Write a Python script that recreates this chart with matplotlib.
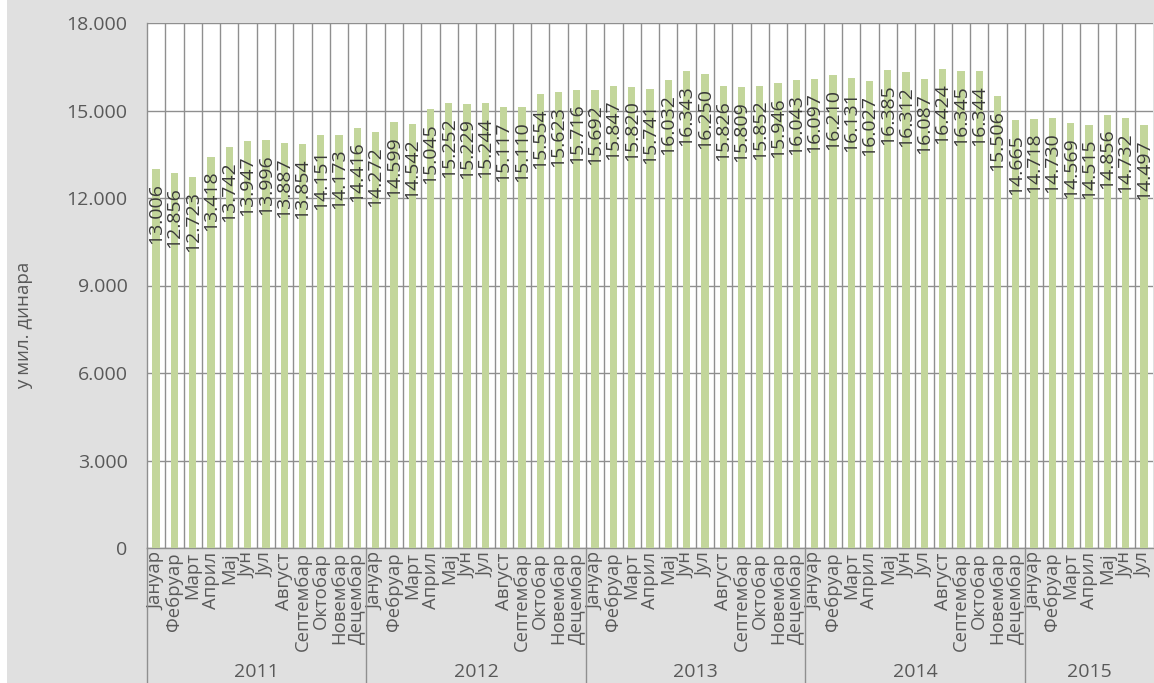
import matplotlib
matplotlib.use("Agg")
import matplotlib.pyplot as plt
import matplotlib.transforms as mtransforms
from matplotlib.patches import Rectangle
from matplotlib.lines import Line2D
import numpy as np

plt.rcParams['font.family'] = ['Open Sans', 'DejaVu Sans']

years = ['2011', '2012', '2013', '2014', '2015']
months_full = ['Јануар', 'Фебруар', 'Март', 'Април', 'Мај', 'Јун', 'Јул',
               'Август', 'Септембар', 'Октобар', 'Новембар', 'Децембар']
months_per_year = [12, 12, 12, 12, 7]

values_2011 = [13006, 12856, 12723, 13418, 13742, 13947, 13996, 13887, 13854, 14151, 14173, 14416]
values_2012 = [14272, 14599, 14542, 15045, 15252, 15229, 15244, 15117, 15110, 15554, 15623, 15716]
values_2013 = [15692, 15847, 15820, 15741, 16032, 16343, 16250, 15826, 15809, 15852, 15946, 16043]
values_2014 = [16097, 16210, 16131, 16027, 16385, 16312, 16087, 16424, 16345, 16344, 15506, 14665]
values_2015 = [14718, 14730, 14569, 14515, 14856, 14732, 14497]

yticks = [0, 3000, 6000, 9000, 12000, 15000, 18000]
y_label = 'у мил. динара'

values = values_2011 + values_2012 + values_2013 + values_2014 + values_2015
month_labels = []
for n in months_per_year:
    month_labels += months_full[:n]

def fmt(v):
    return f"{v:,}".replace(",", ".")

W, H = 1154, 683
FS = 14
fig = plt.figure(figsize=(W / 100, H / 100), dpi=100)
fig.patch.set_facecolor('#e0e0e0')
fig.patches.append(Rectangle((0, 0), 7 / W, 1, transform=fig.transFigure,
                             facecolor='white', edgecolor='none', zorder=-1))

left, right, top, bottom = 147, 1153, 23, 548
ax = fig.add_axes([left / W, (H - bottom) / H, (right - left) / W, (bottom - top) / H])
ax.set_facecolor('white')

x = np.arange(len(values))
ax.bar(x, values, width=0.4, color='#c3d69b', zorder=3)
ax.set_xlim(-0.5, len(values) - 0.5)
ax.set_ylim(0, 18000)

grid_color = '#8f8f8f'
ax.set_yticks(yticks)
ax.set_yticklabels([fmt(v) for v in yticks], fontsize=FS, color='#595959')
ax.yaxis.grid(True, color=grid_color, lw=1, zorder=0)
ax.set_xticks(x)
ax.set_xticklabels(month_labels, rotation=90, fontsize=13.3, color='#595959')
ax.set_xticks(np.arange(0.5, len(values) - 0.5, 1), minor=True)
ax.xaxis.grid(True, which='minor', color=grid_color, lw=1, zorder=0)
ax.set_axisbelow(True)
ax.tick_params(axis='y', length=0, pad=14)
ax.tick_params(axis='x', which='both', length=0, pad=3)

for s in ['top', 'right']:
    ax.spines[s].set_visible(False)
for s in ['left', 'bottom']:
    ax.spines[s].set_color(grid_color)
    ax.spines[s].set_linewidth(1)

for xi, v in zip(x, values):
    ax.annotate(fmt(v), (xi, v), xytext=(0, -14), textcoords='offset pixels',
                rotation=90, ha='center', va='top', fontsize=FS, color='#3a3a3a',
                zorder=4)

ax.set_ylabel(y_label, fontsize=13.5, color='#595959')
ax.yaxis.set_label_coords(33 / W, (H - 325) / H, transform=fig.transFigure)

# year group labels and separators
trans = mtransforms.blended_transform_factory(ax.transData, fig.transFigure)
start = 0
for yr, n in zip(years, months_per_year):
    ax.text(start + (n - 1) / 2, (H - 672) / H, yr, transform=trans,
            ha='center', va='center', fontsize=FS, color='#595959')
    line = Line2D([start - 0.5, start - 0.5], [(H - bottom) / H, 0], transform=trans,
                  color=grid_color, lw=1, clip_on=False)
    fig.lines.append(line)
    start += n

fig.savefig('out.png', dpi=100, facecolor=fig.get_facecolor())
